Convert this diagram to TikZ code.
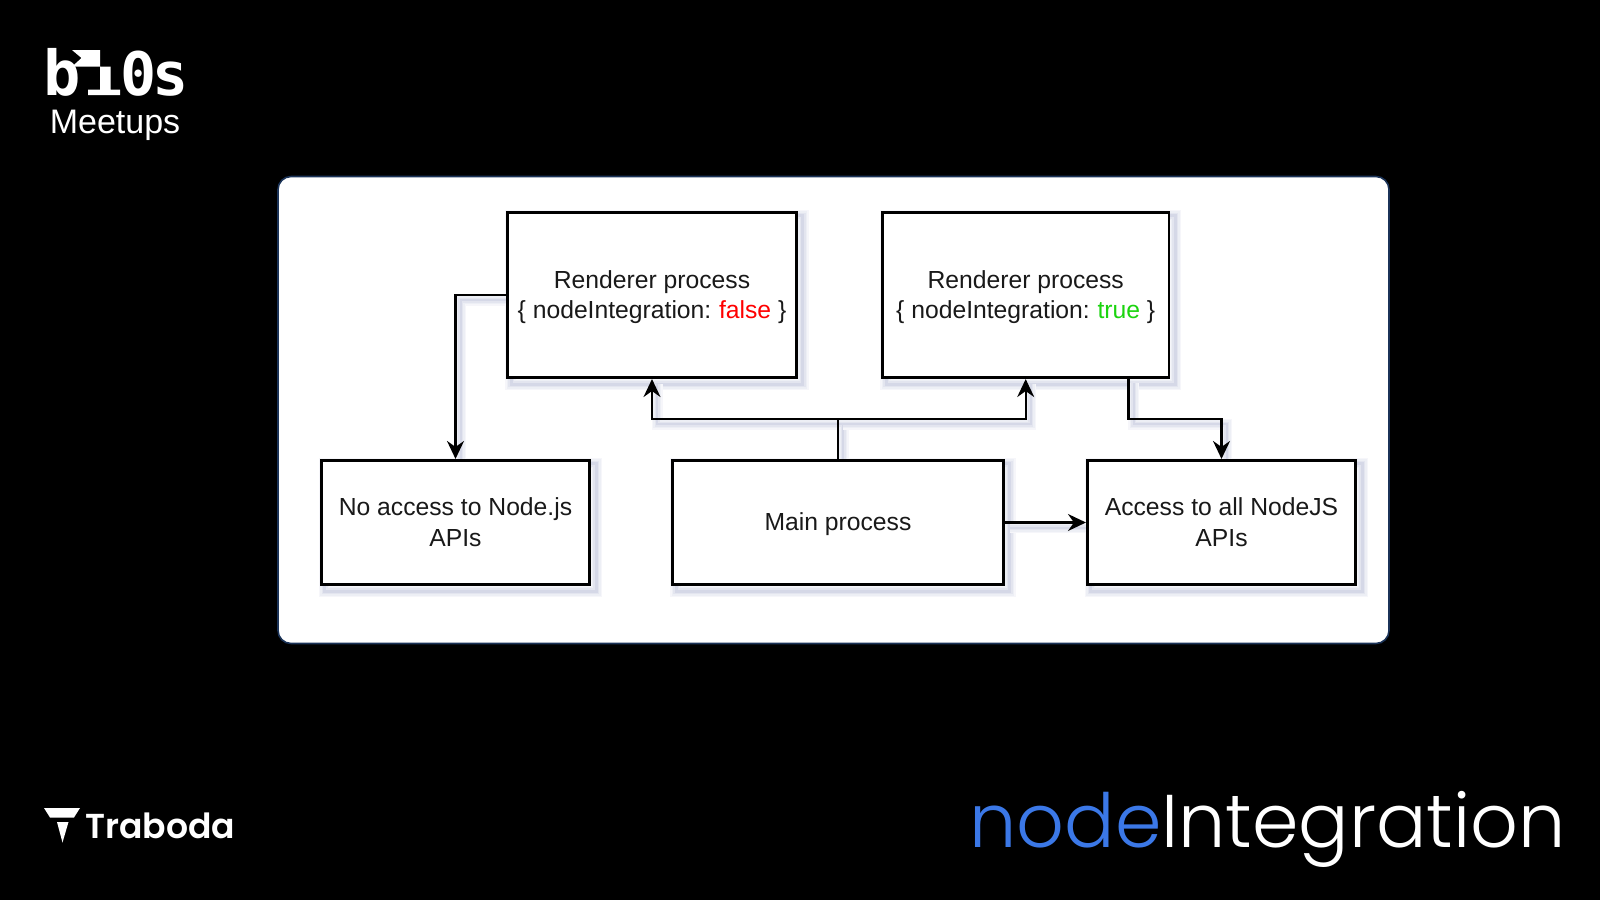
\documentclass[tikz,border=0pt]{standalone}
\usepackage{fontspec}
\setmainfont{Liberation Sans}
\newfontfamily\titlefont{Poppins Light}
\newfontfamily\brandfont{Poppins SemiBold}
\newfontfamily\logofont{DejaVu Sans Mono}
\usetikzlibrary{arrows.meta}
\definecolor{frameblue}{HTML}{1B3358}
\definecolor{shadeblue}{HTML}{8A93BC}
\definecolor{nodeblue}{HTML}{3B78E7}
\definecolor{truegreen}{HTML}{1BD40F}
\newcommand\toppad{\rule{0pt}{22pt}}
\pgfdeclarelayer{panellayer}
\pgfdeclarelayer{linklayer}
\pgfsetlayers{panellayer,linklayer,main}
\tikzset{
  softshade/.style={
    preaction={draw=shadeblue!8,line width=#1+11pt,-,transform canvas={xshift=5pt,yshift=-5pt}},
    preaction={draw=shadeblue!15,line width=#1+8pt,-,transform canvas={xshift=5pt,yshift=-5pt}},
    preaction={draw=shadeblue!24,line width=#1+5pt,-,transform canvas={xshift=5pt,yshift=-5pt}},
    preaction={draw=shadeblue!36,line width=#1+2pt,-,transform canvas={xshift=5pt,yshift=-5pt}}},
  procbox/.style={draw=black,line width=2.6pt,fill=white,align=center,inner sep=0pt,
    font=\fontsize{24.7}{31}\selectfont,text=black!90},
  link/.style={draw=black,line width=2.1pt,->,softshade=0pt},
  logotext/.style={text=white,inner sep=0pt,anchor=base,font=\logofont\bfseries\fontsize{#1}{#1}\selectfont}
}
\begin{document}
\begin{tikzpicture}[x=1pt,y=-1pt,>={Stealth[length=18pt,width=17pt,inset=6pt]},node distance=373.7pt]
\useasboundingbox (0,0) rectangle (1600,900);

% panel behind the process boxes
\begin{pgfonlayer}{panellayer}
\fill[black] (0,0) rectangle (1600,900);
\node[draw=frameblue,line width=1.6pt,fill=white,rounded corners=13pt,minimum width=1111pt,minimum height=467pt,inner sep=0pt] (panel) at (833.5,410) {};
\end{pgfonlayer}

% renderers on top, main row below
\node[procbox,minimum width=289pt,minimum height=165.5pt] (r1) at (652,295) {\toppad Renderer process\\[-.5pt]\{ nodeIntegration: \kern-1.5pt\textcolor{red}{false} \}};
\node[procbox,minimum width=286.5pt,minimum height=165.5pt] (r2) [right of=r1] {\toppad Renderer process\\[-.5pt]\{ nodeIntegration: \kern-1.5pt\textcolor{truegreen}{true} \}};
\node[procbox,minimum width=331pt,minimum height=124.5pt] (main) at (838,522.5) {\toppad Main process};
\node[procbox,minimum width=268.5pt,minimum height=124.5pt] (noaccess) [left of=main,node distance=382.5pt] {No access to Node.js\\APIs};
\node[procbox,minimum width=268.5pt,minimum height=124.5pt] (access) [right of=main,node distance=383.5pt] {Access to all NodeJS\\APIs};

\coordinate (fork) at (main.north |- 0,419);
\coordinate (r2out) at (1128.5,378);
\coordinate (r2turn) at (1221.5,419);

\begin{pgfonlayer}{linklayer}
\foreach \boxname in {r1,r2,main,noaccess,access}
  \path[softshade=1pt] (\boxname.north west) rectangle (\boxname.south east);
\draw[link] (r1.west) -| (noaccess.north);
\draw[link] (main.north) -- (fork) -| (r1.south);
\draw[link] (fork) -| (r2.south);
\draw[link] (r2out) |- (r2turn) -- (access.north);
\draw[link] (main.east) -- (access.west);
\end{pgfonlayer}

% b10s mark
\node[logotext=62] (bmark) at (62,95) {b};
\node[logotext=60] (zeromark) at (138.5,95) {0};
\node[logotext=60] (smark) at (170.5,95) {s};
\fill[white] (72,50) -- (100,50) -- (100,66.7) -- (110.5,66.7) -- (110.5,89.5) -- (120,89.5) -- (120,95) -- (88,95) -- (88,89.5) -- (100,89.5) -- (100,66.7) -- (72,66.7) -- (81.5,58) -- cycle;
\node[text=white!85,inner sep=0pt,font=\fontsize{34}{34}\selectfont] (meetups) at (115,125) {Meetups};

% Traboda mark
\fill[white] (44,808) -- (80,808) -- (74,817.5) -- (50,817.5) -- cycle;
\fill[white] (57,822) -- (68.5,822) -- (62.5,842.5) -- cycle;
\node[text=white,inner sep=0pt,anchor=base west,font=\brandfont\fontsize{34.6}{35}\selectfont] (traboda) at (85,838) {Traboda};

\node[text=white,inner sep=0pt,anchor=base east,font=\titlefont\fontsize{74.7}{75}\selectfont] (heading) at (1566,847) {\textcolor{nodeblue}{node}Integration};
\end{tikzpicture}
\end{document}
